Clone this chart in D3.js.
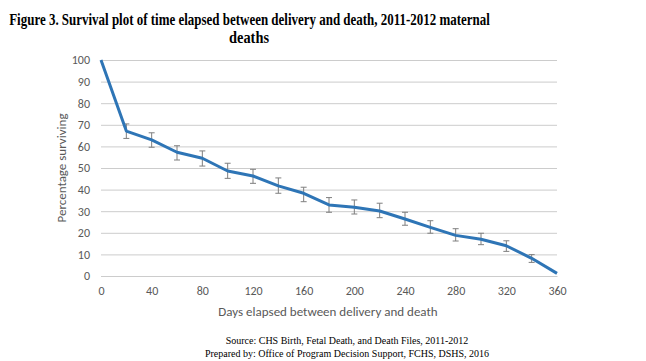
<!DOCTYPE html>
<html>
<head>
<meta charset="utf-8">
<script src="https://cdn.jsdelivr.net/npm/d3@7"></script>
<style>
  body { margin: 0; background: #fff; }
</style>
</head>
<body>
<div id="chart"></div>
<script>
// values
const days = [0, 20, 40, 60, 80, 100, 120, 140, 160, 180, 200, 220, 240, 260, 280, 300, 320, 340, 360];
const surviving = [100, 67.1, 63, 57.3, 54.5, 48.6, 46.3, 41.7, 38.3, 32.9, 31.8, 30.1, 26.4, 22.5, 18.8, 17, 14, 8.2, 1.2];
const upper = [null, 70.4, 66.3, 60.3, 57.9, 52.2, 49.4, 45.4, 41.1, 36.3, 35.2, 33.7, 29.5, 25.6, 21.9, 19.8, 16.3, 9.9, null];
const lower = [null, 63.7, 59.6, 53.7, 50.9, 45.2, 42.9, 38.3, 34.4, 29.5, 28.7, 27, 23.5, 19.8, 16.2, 14.5, 11.4, 6.3, null];
const xTicks = [0, 40, 80, 120, 160, 200, 240, 280, 320, 360];
const yTicks = [0, 10, 20, 30, 40, 50, 60, 70, 80, 90, 100];

const width = 646, height = 361;
const plotLeft = 101, plotRight = 557, plotTop = 60, plotBottom = 276;

let svg = d3.select("#chart").append("svg")
    .attr("width", width)
    .attr("height", height)
    .style("display", "block");

let x = d3.scaleLinear().domain([0, 360]).range([plotLeft, plotRight]);
let y = d3.scaleLinear().domain([0, 100]).range([plotBottom, plotTop]);

const axisFont = "Carlito, Calibri, Lato, sans-serif";
const serif = "'Liberation Serif', 'Times New Roman', serif";

// title: squeeze horizontally to the width of the original condensed heading
function squeezedTitle(txt, cx, baseline, targetWidth) {
    let t = svg.append("text")
        .attr("text-anchor", "middle")
        .style("font-family", serif).style("font-weight", "bold").style("font-size", "16.5px")
        .text(txt);
    let natural = t.node().getComputedTextLength();
    t.attr("transform", `translate(${cx},${baseline}) scale(${targetWidth / natural},1)`);
}
squeezedTitle("Figure 3. Survival plot of time elapsed between delivery and death, 2011-2012 maternal", 249.5, 24.5, 481);
squeezedTitle("deaths", 249, 43, 40);

// gridlines
svg.append("g")
    .attr("transform", `translate(${plotLeft},0)`)
    .call(d3.axisLeft(y).tickValues(yTicks).tickSize(-(plotRight - plotLeft)).tickFormat(d => d).tickPadding(11))
    .call(g => g.select(".domain").remove())
    .call(g => g.selectAll(".tick line").attr("stroke", "#cccccc").attr("stroke-width", 1))
    .call(g => g.selectAll(".tick text").attr("fill", "#595959")
        .style("font-family", axisFont).style("font-size", "12px"));

// x axis
svg.append("g")
    .attr("transform", `translate(0,${plotBottom})`)
    .call(d3.axisBottom(x).tickValues(xTicks).tickSize(0).tickPadding(10))
    .call(g => g.select(".domain").attr("stroke", "#cccccc"))
    .call(g => g.selectAll(".tick text").attr("fill", "#595959")
        .style("font-family", axisFont).style("font-size", "12px"));

// axis titles
svg.append("text")
    .attr("transform", `translate(66,${(plotTop + plotBottom) / 2}) rotate(-90)`)
    .attr("text-anchor", "middle")
    .attr("fill", "#595959")
    .style("font-family", axisFont).style("font-size", "13px")
    .text("Percentage surviving");

svg.append("text")
    .attr("x", 328).attr("y", 316)
    .attr("text-anchor", "middle")
    .attr("fill", "#595959")
    .style("font-family", axisFont).style("font-size", "13px")
    .text("Days elapsed between delivery and death");

// error bars
let bars = days.map((d, i) => ({ d, hi: upper[i], lo: lower[i] })).filter(b => b.hi !== null);
let eb = svg.append("g").attr("stroke", "#7f7f7f").attr("stroke-width", 1);
eb.selectAll(".bar").data(bars).enter().append("path")
    .attr("fill", "none")
    .attr("d", b => {
        let cx = x(b.d), y1 = y(b.hi), y2 = y(b.lo);
        return `M${cx},${y1}V${y2}M${cx - 3},${y1}H${cx + 3}M${cx - 3},${y2}H${cx + 3}`;
    });

// survival line
let line = d3.line()
    .x((d, i) => x(days[i]))
    .y(d => y(d));

svg.append("path")
    .datum(surviving)
    .attr("fill", "none")
    .attr("stroke", "#2e75b6")
    .attr("stroke-width", 3)
    .attr("stroke-linejoin", "round")
    .attr("d", line);

// source notes
svg.append("text")
    .attr("x", 347).attr("y", 344)
    .attr("text-anchor", "middle")
    .style("font-family", serif).style("font-size", "10px")
    .text("Source: CHS Birth, Fetal Death, and Death Files, 2011-2012");
svg.append("text")
    .attr("x", 347).attr("y", 357)
    .attr("text-anchor", "middle")
    .style("font-family", serif).style("font-size", "10px")
    .text("Prepared by: Office of Program Decision Support, FCHS, DSHS, 2016");
</script>
</body>
</html>
